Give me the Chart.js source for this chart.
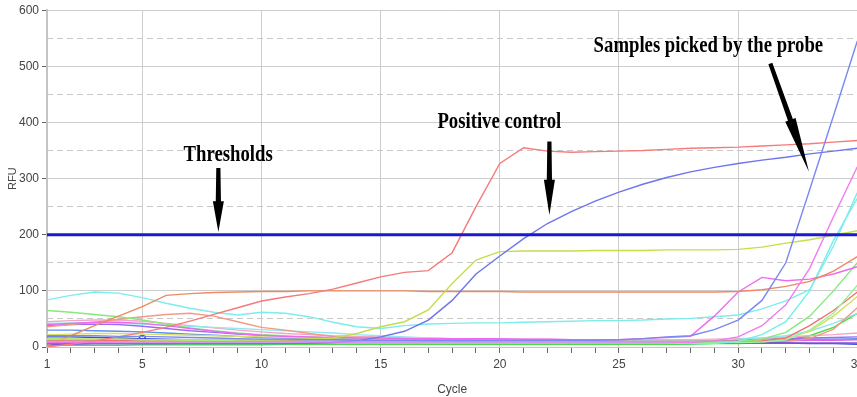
<!DOCTYPE html>
<html><head><meta charset="utf-8">
<script src="https://cdn.jsdelivr.net/npm/chart.js@4"></script>
<style>
html,body{margin:0;padding:0;background:#fff;overflow:hidden;}
#wrap{position:relative;width:868px;height:397px;}
</style></head><body>
<div id="wrap"><canvas id="c" width="868" height="397"></canvas></div>
<script>
const cycles = [1,2,3,4,5,6,7,8,9,10,11,12,13,14,15,16,17,18,19,20,21,22,23,24,25,26,27,28,29,30,31,32,33,34,35];
const yTicks = [0,100,200,300,400,500,600];
const yDashTicks = [50,150,250,350,450,550];
const xLabels = [1,5,10,15,20,25,30,35];
const threshold = 200;

const posRed    = [0,5,11,18,26,35,46,58,70,82,89,95,103,114,125,133,136,168,250,327,355,349,347,348,349,350,352,354,355,356,358,360,362,365,368];
const posBlue   = [6,6,6,6,6,6,6,6,6,6,6,7,8,11,18,28,48,83,130,162,193,220,241,260,276,290,302,312,320,327,333,338,344,349,354];
const yellowGrn = [14,14,14,14,13,13,13,13,13,13,13,14,16,24,36,45,66,113,155,170,171,171,171,172,172,172,173,173,173,174,178,185,191,199,207];
const orange100 = [3,20,38,55,72,92,95,97,98,99,99,100,100,100,100,100,99,99,99,99,98,98,98,98,98,98,98,98,98,99,102,108,117,135,161];
const cyanA     = [84,92,98,96,88,78,69,62,57,62,60,54,44,36,33,38,41,42,43,43,44,45,46,47,47,48,50,51,54,57,68,82,102,180,275];
const cyanC     = [42,43,43,42,41,39,37,35,33,31,29,27,25,22,20,18,16,15,14,13,13,12,12,12,12,12,12,12,13,14,16,20,28,42,60];
const magentaA  = [40,42,44,44,42,38,33,28,24,21,19,18,17,16,16,15,15,15,15,15,14,14,13,13,13,15,17,19,55,98,124,118,121,130,143];
const magentaB  = [9,9,9,9,9,9,9,9,9,9,9,9,9,9,9,9,9,9,9,9,9,9,9,9,9,9,9,8,11,18,38,75,140,232,321];
const blueSteep = [20,20,20,19,19,18,17,16,15,14,14,13,13,12,12,12,12,12,12,12,12,12,12,12,13,15,18,20,31,48,83,150,280,412,545];
const tealCyan  = [10,10,10,9,9,9,9,8,8,8,8,8,7,7,7,7,7,7,7,7,7,7,7,7,7,7,7,6,6,10,22,45,100,190,265];
const green65   = [65,62,58,54,48,41,34,29,25,22,20,18,16,15,14,13,12,12,11,11,10,10,10,9,9,9,9,9,9,10,14,26,55,100,150];
const lightGrn  = [15,15,14,14,13,13,12,12,11,11,10,10,10,9,9,9,8,8,8,8,8,8,8,8,8,8,8,8,8,8,9,13,30,60,110];
const redLow    = [12,12,12,12,12,12,11,11,11,11,11,10,10,10,10,10,10,10,10,10,10,10,10,10,10,10,10,10,10,10,11,16,38,65,98];
const yellowLow = [22,23,24,24,23,22,21,20,19,18,17,16,15,14,13,12,12,11,11,10,10,10,10,9,9,9,9,9,10,10,12,15,28,55,90];
const salmon    = [36,40,44,49,54,58,60,55,45,35,30,24,19,16,15,14,13,12,12,12,11,11,11,10,10,10,10,10,10,10,10,10,15,32,70];
const pink      = [45,47,48,48,46,42,38,34,30,27,24,22,20,19,18,17,16,15,15,14,14,14,13,13,13,13,13,13,14,15,16,18,20,22,25];
const purple    = [38,40,41,40,37,33,29,26,23,21,19,17,16,15,14,13,13,12,12,12,11,11,11,11,11,11,11,12,12,13,14,15,16,17,18];
const blueBg    = [30,30,29,28,27,25,23,21,19,17,16,15,14,13,12,12,11,11,10,10,10,10,10,10,10,10,11,11,12,12,13,13,14,14,15];
const magentaLo = [8,8,8,8,8,8,8,8,8,9,9,9,9,9,9,9,9,9,9,9,9,9,9,9,9,9,9,9,10,10,11,11,12,12,13];
const purpleLo  = [5,5,6,6,6,6,7,7,7,7,7,7,7,7,7,7,7,7,7,7,7,7,7,7,7,7,7,7,7,7,7,7,7,7,7];
const brightGrn = [3,3,3,3,4,4,4,4,4,4,5,5,5,5,5,5,5,5,5,5,5,5,5,5,5,5,5,5,6,6,8,12,20,35,60];
const markBlue  = [18,18,17,16,15,14,13,12,12,11,11,10,10,10,9,9,9,9,9,9,9,9,8,8,8,8,8,8,8,8,7,7,6,6,5];

const seriesList = [
  {v: cycles.map(()=>threshold), c:'#1a1acf', w:3},
  {v: blueSteep, c:'#7a88f2'},
  {v: magentaB,  c:'#f07cf0'},
  {v: posRed,    c:'#f77a7a'},
  {v: posBlue,   c:'#6c74ee'},
  {v: yellowGrn, c:'#c5dd4b'},
  {v: orange100, c:'#ee8a62'},
  {v: magentaA,  c:'#ee6aee'},
  {v: cyanA,     c:'#7cecec'},
  {v: tealCyan,  c:'#74f0e8'},
  {v: green65,   c:'#86ea7a'},
  {v: lightGrn,  c:'#9df09d'},
  {v: redLow,    c:'#f07070'},
  {v: yellowLow, c:'#d6e060'},
  {v: salmon,    c:'#f29a86'},
  {v: cyanC,     c:'#8fe8ee'},
  {v: pink,      c:'#f5a3c7'},
  {v: purple,    c:'#9a6cf0'},
  {v: blueBg,    c:'#5e8ef0'},
  {v: magentaLo, c:'#e060e0'},
  {v: purpleLo,  c:'#8050d0'},
  {v: brightGrn, c:'#44e044'},
  {v: markBlue,  c:'#3a50d8', marker:4}
];

const notes = [
  {text:'Thresholds', cx:8.6, base:331, ax0:8.19, ay0:319, ax1:8.19, ay1:205},
  {text:'Positive control', cx:19.98, base:391, ax0:22.08, ay0:366, ax1:22.08, ay1:235},
  {text:'Samples picked by the probe', cx:28.75, base:526, ax0:31.35, ay0:505, ax1:32.97, ay1:312}
];

function drawArrow(ctx,x0,y0,x1,y1){
  const dx=x1-x0, dy=y1-y0, len=Math.hypot(dx,dy);
  const ux=dx/len, uy=dy/len, nx=-uy, ny=ux;
  const headLen=len*0.48, headW=5.5, shaftW=2.6;
  const bx=x1-ux*headLen, by=y1-uy*headLen;
  ctx.beginPath();
  ctx.moveTo(x0+nx*shaftW*0.8, y0+ny*shaftW*0.8);
  ctx.lineTo(bx+nx*shaftW, by+ny*shaftW);
  ctx.lineTo(bx+nx*headW, by+ny*headW);
  ctx.lineTo(x1,y1);
  ctx.lineTo(bx-nx*headW, by-ny*headW);
  ctx.lineTo(bx-nx*shaftW, by-ny*shaftW);
  ctx.lineTo(x0-nx*shaftW*0.8, y0-ny*shaftW*0.8);
  ctx.closePath(); ctx.fill();
}

const notePlugin = {
  id:'notes',
  afterDraw(chart){
    const ctx = chart.ctx, x = chart.scales.x, y = chart.scales.y;
    ctx.save();
    ctx.fillStyle = '#000';
    notes.forEach(n=>{
      ctx.save();
      ctx.translate(x.getPixelForValue(n.cx), y.getPixelForValue(n.base));
      ctx.scale(0.78,1);
      ctx.font = 'bold 24px "Liberation Serif","Times New Roman",serif';
      ctx.textAlign = 'center';
      ctx.textBaseline = 'alphabetic';
      ctx.fillText(n.text,0,0);
      ctx.restore();
      drawArrow(ctx, x.getPixelForValue(n.ax0), y.getPixelForValue(n.ay0), x.getPixelForValue(n.ax1), y.getPixelForValue(n.ay1));
    });
    ctx.restore();
  }
};

const tickFont = {family:'"Liberation Sans Narrow","Arial Narrow","Liberation Sans",sans-serif', size:12};

new Chart(document.getElementById('c'), {
  type:'line',
  data:{
    datasets: seriesList.map(s=>({
      data: s.v.map((val,i)=>({x:cycles[i], y:val})),
      borderColor: s.c,
      backgroundColor: 'rgba(0,0,0,0)',
      borderWidth: s.w || 1.4,
      tension: 0,
      pointRadius: s.marker!==undefined ? (c=>c.dataIndex===s.marker?3:0) : 0,
      pointBorderColor: s.c,
      pointBorderWidth: 1.5,
      pointBackgroundColor: 'rgba(0,0,0,0)'
    }))
  },
  options:{
    responsive:false,
    animation:false,
    events:[],
    layout:{padding:{top:4,left:0,right:0,bottom:0}},
    plugins:{legend:{display:false}, tooltip:{enabled:false}},
    scales:{
      x:{
        type:'linear', min:1, max:35,
        ticks:{stepSize:1, autoSkip:false, maxRotation:0, color:'#444', font:tickFont, padding:4,
          callback:(v)=> xLabels.includes(v) ? String(v) : ''},
        grid:{color:(c)=> (c.tick && c.tick.value%5===0) ? '#cdcdcd' : 'rgba(0,0,0,0)', tickColor:'#666', tickLength:6, lineWidth:1},
        border:{color:'#c4c4c4', width:1},
        title:{display:true, text:'Cycle', color:'#444', font:tickFont, padding:{top:2,bottom:0}},
        afterFit(s){ s.height = 50; }
      },
      y:{
        min:0, max:600,
        afterBuildTicks(s){ s.ticks = yTicks.map(v=>({value:v})); },
        ticks:{color:'#444', font:tickFont, padding:3},
        grid:{color:'#cdcdcd', tickColor:'#666', tickLength:5, lineWidth:1},
        border:{color:'#c4c4c4', width:2},
        title:{display:true, text:'RFU', color:'#444', font:{family:'"Liberation Sans",sans-serif', size:11}, padding:{top:6,bottom:0}},
        afterFit(s){ s.width = 47; }
      },
      y2:{
        position:'left', min:0, max:600,
        afterBuildTicks(s){ s.ticks = yDashTicks.map(v=>({value:v})); },
        ticks:{display:false},
        grid:{color:'#c8c8c8', drawTicks:false, lineWidth:1},
        border:{display:false, dash:[6,4]},
        afterFit(s){ s.width = 0; }
      }
    }
  },
  plugins:[notePlugin]
});
</script>
</body></html>
